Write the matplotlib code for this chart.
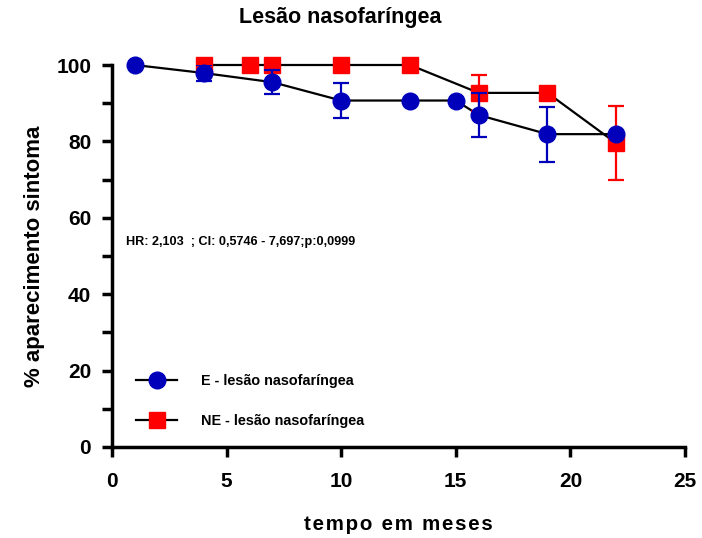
import matplotlib
matplotlib.use('Agg')
import matplotlib.pyplot as plt
from matplotlib.lines import Line2D

plt.rcParams['font.family'] = ['Liberation Sans', 'DejaVu Sans']
plt.rcParams['font.weight'] = 'bold'

# E - lesão nasofaríngea
e_x = [1, 4, 7, 10, 13, 15, 16, 19, 22]
e_y = [100, 97.9, 95.5, 90.7, 90.7, 90.7, 86.9, 81.9, 81.9]
e_err = [0, 2.1, 3.1, 4.5, 0, 0, 5.7, 7.2, 0]

# NE - lesão nasofaríngea
ne_x = [4, 6, 7, 10, 13, 16, 19, 22]
ne_y = [100, 100, 100, 100, 100, 92.7, 92.7, 79.5]
ne_err = [0, 0, 0, 0, 0, 4.8, 0, 9.7]

blue = '#0000BB'
red = '#FF0000'

fig = plt.figure(figsize=(7.02, 5.38), dpi=100)
ax = fig.add_axes([112 / 702, 91 / 538, 573 / 702, 382 / 538])

ax.plot(ne_x, ne_y, color='black', lw=1.6, zorder=2, clip_on=False)
ax.plot(e_x, e_y, color='black', lw=1.6, zorder=2, clip_on=False)

ax.errorbar(ne_x, ne_y, yerr=ne_err, fmt='none', ecolor=red, elinewidth=1.6,
            capsize=6, capthick=1.6, zorder=3)
ax.plot(ne_x, ne_y, ls='none', marker='s', ms=11.5, color=red, mec=red, zorder=4,
        clip_on=False)
ax.errorbar(e_x, e_y, yerr=e_err, fmt='none', ecolor=blue, elinewidth=1.6,
            capsize=6, capthick=1.6, zorder=5)
ax.plot(e_x, e_y, ls='none', marker='o', ms=12, color=blue, mec=blue, zorder=6,
        clip_on=False)

ax.set_xlim(0, 25)
ax.set_ylim(0, 100)
ax.set_xticks([0, 5, 10, 15, 20, 25])
ax.set_yticks([0, 20, 40, 60, 80, 100])
ax.set_yticks([10, 30, 50, 70, 90], minor=True)
ax.spines['top'].set_visible(False)
ax.spines['right'].set_visible(False)
for s in ['left', 'bottom']:
    ax.spines[s].set_linewidth(2.5)
ax.tick_params(which='both', direction='out', width=2.5, length=7)
ax.tick_params(labelsize=15, pad=8)
ax.tick_params(axis='x', pad=11)
for lab in ax.get_xticklabels() + ax.get_yticklabels():
    lab.set_fontweight('bold')

fig.text(340 / 702, 1 - 18 / 538, 'Lesão nasofaríngea', fontsize=15.5,
         fontweight='bold', ha='center', va='center')
ax.set_ylabel('% aparecimento sintoma', fontsize=16, fontweight='bold', labelpad=8)
sep = '\u200a \u200a'
xlab = sep.join('\u200a'.join(w) for w in ['tempo', 'em', 'meses'])
ax.set_xlabel(xlab, fontsize=14.8, fontweight='bold', labelpad=17)

ax.text(0.6, 53.7, 'HR: 2,103  ; CI: 0,5746 - 7,697;p:0,0999', fontsize=9.1,
        fontweight='bold', va='center')

handles = [
    Line2D([], [], color='black', lw=1.6, marker='o', ms=12, mfc=blue, mec=blue),
    Line2D([], [], color='black', lw=1.6, marker='s', ms=11.5, mfc=red, mec=red),
]
ax.legend(handles, ['E - lesão nasofaríngea', 'NE - lesão nasofaríngea'],
          loc='lower left', bbox_to_anchor=(0.02, 0.015), frameon=False,
          handlelength=2.8, handletextpad=1.7, labelspacing=1.8,
          prop={'size': 10.4, 'weight': 'bold'})

fig.savefig('out.png', dpi=100)
